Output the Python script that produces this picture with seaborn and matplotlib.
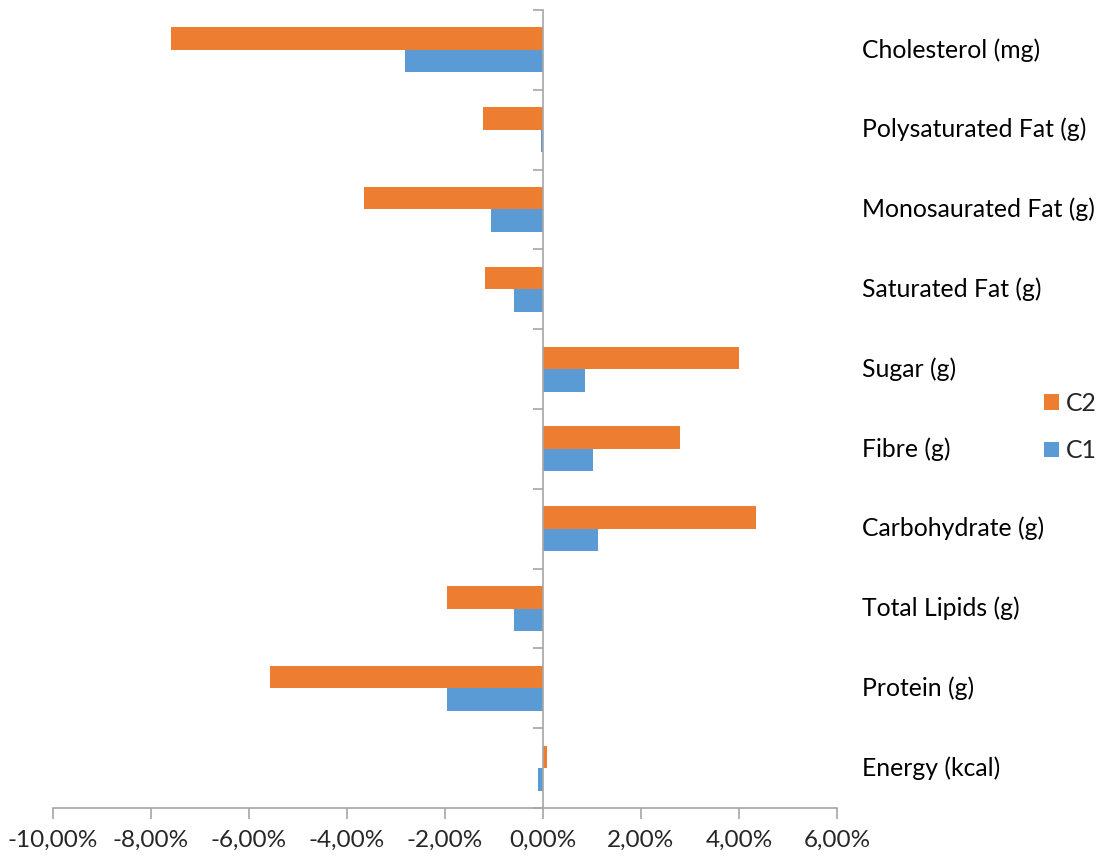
import numpy as np
import pandas as pd
import matplotlib
matplotlib.use("Agg")
import matplotlib.pyplot as plt
from matplotlib.ticker import FuncFormatter, FixedLocator
from matplotlib.patches import Patch
import seaborn as sns

# Nutrient categories, top to bottom
categories = [
    "Cholesterol (mg)",
    "Polysaturated Fat (g)",
    "Monosaurated Fat (g)",
    "Saturated Fat (g)",
    "Sugar (g)",
    "Fibre (g)",
    "Carbohydrate (g)",
    "Total Lipids (g)",
    "Protein (g)",
    "Energy (kcal)",
]
# Relative change (%) per condition
c2_values = [-7.59, -1.22, -3.65, -1.18, 4.00, 2.80, 4.35, -1.96, -5.57, 0.08]
c1_values = [-2.82, -0.04, -1.06, -0.59, 0.86, 1.02, 1.12, -0.59, -1.96, -0.10]
series_names = ["C2", "C1"]
x_ticks = [-10, -8, -6, -4, -2, 0, 2, 4, 6]

df = pd.DataFrame({
    "category": categories * 2,
    "series": ["C2"] * len(categories) + ["C1"] * len(categories),
    "value": c2_values + c1_values,
})

palette = {"C2": "#ED7D31", "C1": "#5B9BD5"}
axis_grey = "#A6A6A6"
label_size = 17.8
tick_size = 17.5

sns.set_style("white")
plt.rcParams["font.family"] = ["Lato", "DejaVu Sans"]

fig = plt.figure(figsize=(11.04, 8.60), dpi=100)
ax = fig.add_axes([53 / 1104, 52 / 860, 784 / 1104, 798 / 860])

sns.barplot(
    data=df, x="value", y="category", hue="series",
    order=categories, hue_order=series_names, palette=palette,
    orient="h", width=0.5625, gap=0, dodge=True, saturation=1,
    linewidth=0, legend=False, ax=ax,
)

ax.set_xlim(-10, 6)
ax.set_ylim(len(categories) - 0.5, -0.5)
ax.set_xlabel("")
ax.set_ylabel("")

# Spines: vertical axis at zero, horizontal at bottom
for side in ["top", "right"]:
    ax.spines[side].set_visible(False)
ax.spines["left"].set_position(("data", 0))
ax.spines["left"].set_color(axis_grey)
ax.spines["bottom"].set_color(axis_grey)
ax.spines["left"].set_linewidth(1.2)
ax.spines["bottom"].set_linewidth(1.2)

ax.xaxis.set_major_locator(FixedLocator(x_ticks))
ax.xaxis.set_major_formatter(
    FuncFormatter(lambda v, _: f"{v:.2f}".replace(".", ",") + "%"))
ax.tick_params(axis="x", direction="out", length=8, width=1.2,
               color=axis_grey, labelsize=tick_size, pad=8, bottom=True)

# Category boundary ticks on the zero axis, labels placed on the right
ax.yaxis.set_major_locator(FixedLocator(np.arange(-0.5, len(categories), 1.0)))
ax.set_yticklabels([])
ax.tick_params(axis="y", direction="out", length=7, width=1.2,
               color=axis_grey, left=True)

label_x = (862 - 53) / 784
for i, name in enumerate(categories):
    ax.text(label_x, i, name, transform=ax.get_yaxis_transform(),
            ha="left", va="center", fontsize=label_size, color="black")

handles = [Patch(facecolor=palette[s], edgecolor="none") for s in series_names]
fig.legend(handles, series_names, loc="center left",
           bbox_to_anchor=(1044 / 1104, 1 - 427 / 860), frameon=False,
           fontsize=label_size, handlelength=0.6, handleheight=0.6,
           handletextpad=0.3, labelspacing=1.0, borderpad=0,
           borderaxespad=0)

fig.savefig("out.png", dpi=100, facecolor="white")
